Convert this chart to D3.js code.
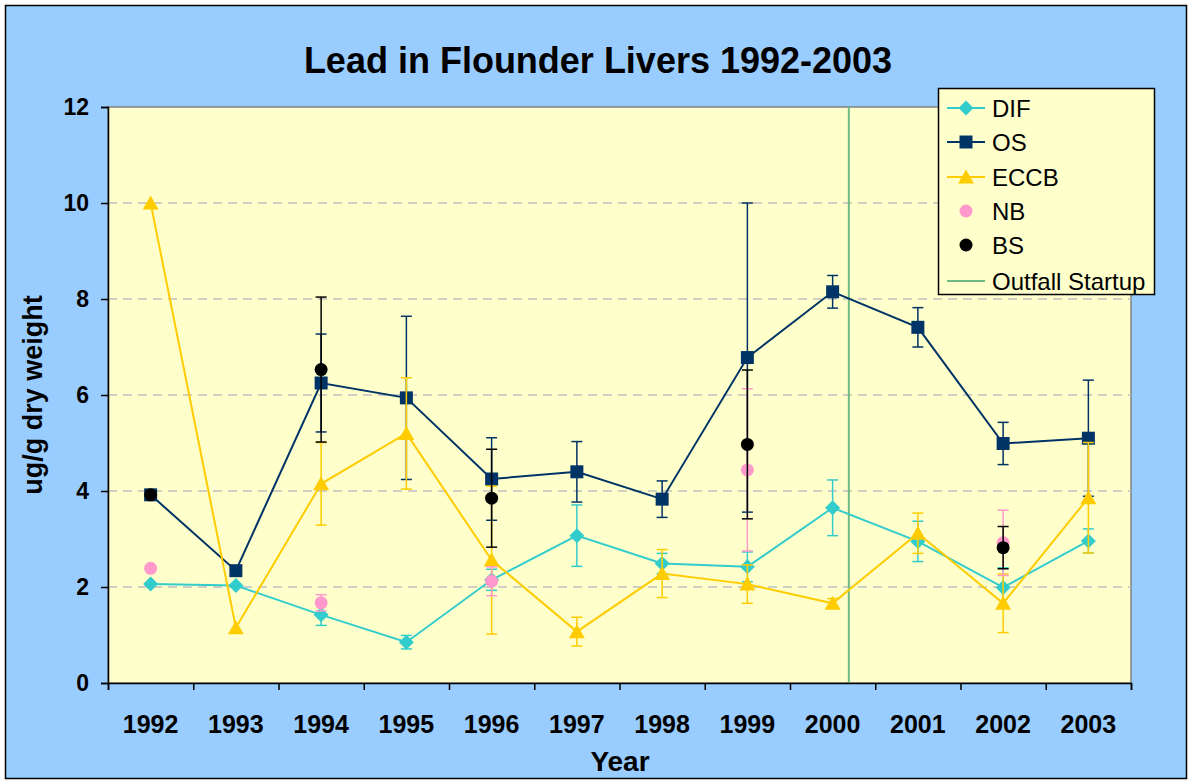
<!DOCTYPE html>
<html><head><meta charset="utf-8">
<script src="https://cdn.jsdelivr.net/npm/d3@7"></script>
<style>body{margin:0;background:#fff;} svg{display:block;font-family:Arial,"Liberation Sans",sans-serif;}</style>
</head><body>
<svg id="chart" width="1192" height="784"></svg>
<script>
const years = [1992,1993,1994,1995,1996,1997,1998,1999,2000,2001,2002,2003];
const yTicks = [0,2,4,6,8,10,12];
const difMean = [2.06,2.03,1.42,0.85,2.15,3.07,2.49,2.42,3.65,2.95,1.99,2.96];
const difErr  = [null,null,0.22,0.14,0.22,0.64,0.21,0.31,0.58,0.42,0.41,0.25];
const osMean  = [3.92,2.34,6.25,5.94,4.25,4.40,3.83,6.78,8.15,7.41,4.99,5.10];
const osErr   = [null,null,1.02,1.70,0.86,0.63,0.38,3.22,0.34,0.41,0.44,1.21];
const eccbMean= [10.0,1.15,4.15,5.20,2.56,1.07,2.28,2.06,1.66,3.12,1.66,3.86];
const eccbErr = [null,null,0.86,1.16,1.54,0.30,0.50,0.40,0.10,0.42,0.61,1.15];
const nbMean  = [2.39,null,1.67,null,2.12,null,null,4.44,null,null,2.92,null];
const nbErr   = [null,null,0.17,null,0.30,null,null,1.69,null,null,0.68,null];
const bsMean  = [3.92,null,6.53,null,3.85,null,null,4.97,null,null,2.82,null];
const bsErr   = [null,null,1.51,null,1.02,null,null,1.55,null,null,0.44,null];
const outfallStartup = 2000.19;

const svg = d3.select("#chart");
const plot = {l:108, t:107, r:1131, b:683};

svg.append("rect").attr("x",5.5).attr("y",5.5).attr("width",1181).attr("height",773)
  .attr("fill","#99CCFF").attr("stroke","#000").attr("stroke-width",1.5);
svg.append("rect").attr("x",plot.l).attr("y",plot.t).attr("width",plot.r-plot.l).attr("height",plot.b-plot.t)
  .attr("fill","#FFFFCC").attr("stroke","#808080").attr("stroke-width",1.5);

const x = d3.scaleLinear().domain([years[0]-0.5, years[years.length-1]+0.5]).range([plot.l, plot.r]);
const y = d3.scaleLinear().domain([0,12]).range([plot.b, plot.t]);

svg.append("g").selectAll("line").data(yTicks.filter(d=>d>0 && d<12)).join("line")
  .attr("x1",plot.l).attr("x2",plot.r).attr("y1",d=>y(d)).attr("y2",d=>y(d))
  .attr("stroke","#C0C0C0").attr("stroke-width",1.5).attr("stroke-dasharray","9,6");

svg.append("line").attr("x1",x(outfallStartup)).attr("x2",x(outfallStartup)).attr("y1",plot.t).attr("y2",plot.b)
  .attr("stroke","#6DBB82").attr("stroke-width",2);

const yAxis = d3.axisLeft(y).tickValues(yTicks).tickSize(7).tickPadding(12).tickFormat(d3.format("d"));
const gy = svg.append("g").attr("transform",`translate(${plot.l},0)`).call(yAxis);
gy.select(".domain").attr("stroke","#000").attr("stroke-width",1.5);
gy.selectAll(".tick line").attr("stroke","#000").attr("stroke-width",1.5);
gy.selectAll("text").attr("font-size",23).attr("font-weight","bold").attr("fill","#000").attr("font-family","Arial, 'Liberation Sans', sans-serif");

const bounds = d3.range(years.length+1).map(i=>years[0]-0.5+i);
const xAxis = d3.axisBottom(x).tickValues(bounds).tickSize(7).tickFormat("");
const gx = svg.append("g").attr("transform",`translate(0,${plot.b})`).call(xAxis);
gx.select(".domain").attr("stroke","#000").attr("stroke-width",1.5);
gx.selectAll(".tick line").attr("stroke","#000").attr("stroke-width",1.5);
svg.append("g").selectAll("text").data(years).join("text")
  .attr("x",d=>x(d)).attr("y",733).attr("text-anchor","middle")
  .attr("font-size",25).attr("font-weight","bold").text(d=>d);

svg.append("text").attr("x",598).attr("y",73).attr("text-anchor","middle")
  .attr("font-size",36).attr("font-weight","bold").text("Lead in Flounder Livers 1992-2003");
svg.append("text").attr("x",620).attr("y",771).attr("text-anchor","middle")
  .attr("font-size",28).attr("font-weight","bold").text("Year");
svg.append("text").attr("transform","translate(42,395) rotate(-90)").attr("text-anchor","middle")
  .attr("font-size",27).attr("font-weight","bold").text("ug/g dry weight");

const markers = {
  diamond: "M0,-7.5L7.5,0L0,7.5L-7.5,0Z",
  square: "M-6.5,-6.5H6.5V6.5H-6.5Z",
  triangle: "M0,-7.5L8,6.5L-8,6.5Z",
  circle: d3.symbol().type(d3.symbolCircle).size(Math.PI*6.5*6.5)()
};

const series = [
  {name:"DIF", mean:difMean, err:difErr, color:"#33CCCC", line:true, mk:"diamond"},
  {name:"OS", mean:osMean, err:osErr, color:"#003366", line:true, mk:"square"},
  {name:"ECCB", mean:eccbMean, err:eccbErr, color:"#FFCC00", line:true, mk:"triangle"},
  {name:"NB", mean:nbMean, err:nbErr, color:"#FF99CC", line:false, mk:"circle"},
  {name:"BS", mean:bsMean, err:bsErr, color:"#000000", line:false, mk:"circle"}
];

series.forEach(s=>{
  const pts = years.map((yr,i)=>({yr, v:s.mean[i], e:s.err[i]})).filter(p=>p.v!=null);
  const g = svg.append("g");
  const cap = 5.5;
  pts.filter(p=>p.e!=null).forEach(p=>{
    const cx = x(p.yr), y1 = y(p.v+p.e), y2 = y(p.v-p.e);
    g.append("line").attr("x1",cx).attr("x2",cx).attr("y1",y1).attr("y2",y2).attr("stroke",s.color).attr("stroke-width",1.5);
    g.append("line").attr("x1",cx-cap).attr("x2",cx+cap).attr("y1",y1).attr("y2",y1).attr("stroke",s.color).attr("stroke-width",1.5);
    g.append("line").attr("x1",cx-cap).attr("x2",cx+cap).attr("y1",y2).attr("y2",y2).attr("stroke",s.color).attr("stroke-width",1.5);
  });
  if (s.line){
    g.append("path").datum(pts).attr("fill","none").attr("stroke",s.color).attr("stroke-width",2)
      .attr("d",d3.line().x(p=>x(p.yr)).y(p=>y(p.v)));
  }
  g.selectAll("path.m").data(pts).join("path").attr("class","m")
    .attr("transform",p=>`translate(${x(p.yr)},${y(p.v)})`).attr("d",markers[s.mk]).attr("fill",s.color);
});

const lg = svg.append("g");
lg.append("rect").attr("x",938.5).attr("y",88.5).attr("width",216).attr("height",206)
  .attr("fill","#FFFFCC").attr("stroke","#000").attr("stroke-width",1.5);
const legendItems = series.concat([{name:"Outfall Startup", color:"#6DBB82", line:true, mk:null}]);
const ly = [108,142,177,211,245,281];
legendItems.forEach((s,i)=>{
  const yy = ly[i];
  if (s.line) lg.append("line").attr("x1",947).attr("x2",985).attr("y1",yy).attr("y2",yy).attr("stroke",s.color).attr("stroke-width",2);
  if (s.mk) lg.append("path").attr("transform",`translate(966,${yy})`).attr("d",markers[s.mk]).attr("fill",s.color);
  lg.append("text").attr("x",992).attr("y",yy+8.5).attr("font-size",24).attr("fill","#000").text(s.name);
});
</script>
</body></html>
